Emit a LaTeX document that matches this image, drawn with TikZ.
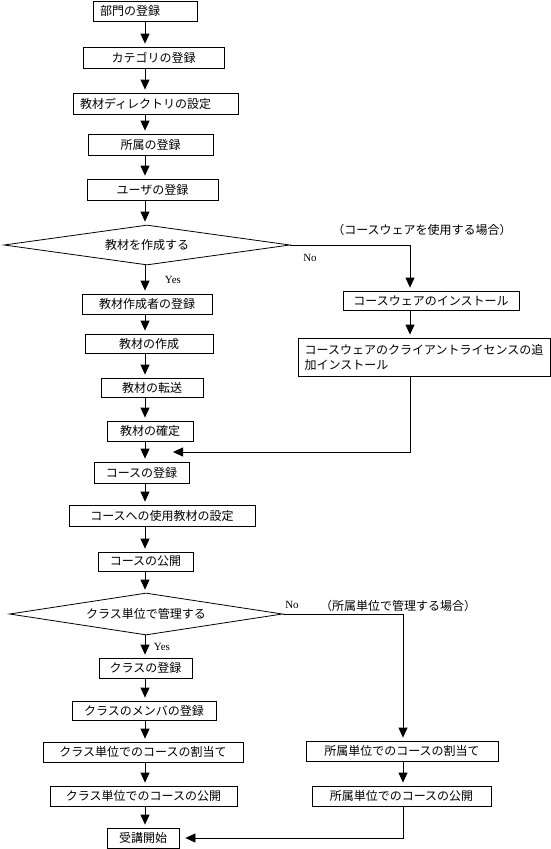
\documentclass[tikz,border=0pt]{standalone}
\usepackage{fontspec}
\newfontfamily\jfont{Noto Sans CJK JP}
\newfontfamily\lfont{Liberation Serif}
\usepackage{tikz}
\usetikzlibrary{shapes, arrows.meta, positioning}

\begin{document}
\begin{tikzpicture}[x=1pt, y=-1pt,
thin,
block/.style={draw, fill=white, rectangle, line width=0.8pt, inner sep=0pt, minimum height=20, font=\jfont\fontsize{12}{15}\selectfont},
lblock/.style={block, align=left, inner xsep=7pt},
decision/.style={draw, diamond, aspect=7, line width=0.8pt, inner sep=0pt, font=\jfont\fontsize{12}{15}\selectfont},
note/.style={inner sep=0pt, font=\jfont\fontsize{12}{15}\selectfont},
yn/.style={inner sep=0pt, font=\lfont\fontsize{11}{13}\selectfont},
arr/.style={-{Triangle[width=9pt,length=10pt]}, line width=0.8pt, shorten >=3pt}]

\useasboundingbox (0,0) rectangle (551,849);

\coordinate (colA) at (145,0);
\coordinate (colB) at (410,0);
\coordinate (colC) at (403,0);
\coordinate (back1) at (173,452);

\node[lblock, text width=90]							(dept)		at (145,11)		{部門の登録};
\node[block, minimum width=141, minimum height=21]		(cat)		at (153.5,57.5)	{カテゴリの登録};
\node[lblock, text width=151, minimum height=21]		(dir)		at (155.5,103.5)	{教材ディレクトリの設定};
\node[block, minimum width=125, minimum height=21]		(affil)		at (150.5,144.5)	{所属の登録};
\node[block, minimum width=131, minimum height=21]		(user)		at (152.5,189.5)	{ユーザの登録};
\node[decision, minimum width=286, minimum height=40]	(d1)		at (147,245)		{教材を作成する};

\node[block, minimum width=130]							(author)	at (147,304)		{教材作成者の登録};
\node[block, minimum width=128, minimum height=19]		(make)		at (149,343.5)	{教材の作成};
\node[block, minimum width=102, minimum height=19]		(xfer)		at (152,387.5)	{教材の転送};
\node[block, minimum width=86]							(fix)		at (150,431)		{教材の確定};

\node[block, minimum width=176, minimum height=19]		(cwins)		at (431,300.5)	{コースウェアのインストール};
\node[block, minimum width=252, minimum height=38, align=left]	(cwlic)	at (424,357)	{コースウェアのクライアントライセンスの追\\加インストール};

\node[block, minimum width=95, minimum height=21]		(course)	at (141.5,472.5)	{コースの登録};
\node[block, minimum width=186, minimum height=21]		(cmat)		at (162,515.5)	{コースへの使用教材の設定};
\node[block, minimum width=95, minimum height=19]		(cpub)		at (145.5,561.5)	{コースの公開};
\node[decision, minimum width=273, minimum height=42]	(d2)		at (146,614)		{クラス単位で管理する};

\node[block, minimum width=93]							(cls)		at (145.5,668)	{クラスの登録};
\node[block, minimum width=144, minimum height=19]		(mem)		at (144,710.5)	{クラスのメンバの登録};
\node[block, minimum width=200]							(clsasg)	at (143,752)		{クラス単位でのコースの割当て};
\node[block, minimum width=187]							(clspub)	at (143.5,796)	{クラス単位でのコースの公開};
\node[block, minimum width=72]							(start)		at (143,838)		{受講開始};

\node[block, minimum width=192]							(affasg)	at (402,751)		{所属単位でのコースの割当て};
\node[block, minimum width=179]							(affpub)	at (401.5,796)	{所属単位でのコースの公開};

\node[note]		(cwnote)	at (422,230)	{（コースウェアを使用する場合）};
\node[note]		(afnote)	at (398,606)	{（所属単位で管理する場合）};
\node[yn]		(yes1)		at (173,280)	{Yes};
\node[yn]		(no1)		at (310,258)	{No};
\node[yn]		(yes2)		at (162,647)	{Yes};
\node[yn]		(no2)		at (292,605)	{No};

\path[arr]
 (dept.south -| colA)	edge (cat.north -| colA)
 (cat.south -| colA)	edge (dir.north -| colA)
 (dir.south -| colA)	edge (affil.north -| colA)
 (affil.south -| colA)	edge (user.north -| colA)
 (user.south -| colA)	edge (d1.north -| colA)
 (d1.south -| colA)		edge (author.north -| colA)
 (author.south -| colA)	edge (make.north -| colA)
 (make.south -| colA)	edge (xfer.north -| colA)
 (xfer.south -| colA)	edge (fix.north -| colA)
 (fix.south -| colA)	edge (course.north -| colA)
 (course.south -| colA)	edge (cmat.north -| colA)
 (cmat.south -| colA)	edge (cpub.north -| colA)
 (cpub.south -| colA)	edge (d2.north -| colA)
 (d2.south -| colA)		edge (cls.north -| colA)
 (cls.south -| colA)	edge (mem.north -| colA)
 (mem.south -| colA)	edge (clsasg.north -| colA)
 (clsasg.south -| colA)	edge (clspub.north -| colA)
 (clspub.south -| colA)	edge (start.north -| colA)
 (cwins.south -| colB)	edge (cwlic.north -| colB)
 (affasg.south -| colC)	edge (affpub.north -| colC);

\draw[arr] (d1.east) -| (cwins.north -| colB);
\draw[arr, shorten >=0pt] (cwlic.south -| colB) |- (back1);
\draw[arr] (d2.east) -| (affasg.north -| colC);
\draw[arr, shorten >=6pt] (affpub.south -| colC) |- (start.east);

\end{tikzpicture}
\end{document}
